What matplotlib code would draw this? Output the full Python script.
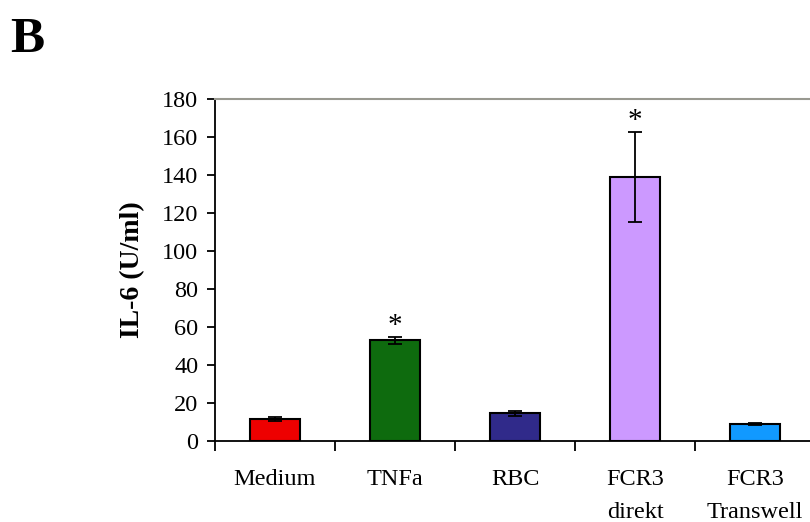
import numpy as np
import matplotlib
matplotlib.use('Agg')
import matplotlib.pyplot as plt

categories = ['Medium', 'TNFa', 'RBC', 'FCR3\ndirekt', 'FCR3\nTranswell']
values = [11.5, 53.0, 14.5, 139.0, 9.0]
errors = [1.0, 1.7, 1.5, 23.5, 0.6]
colors = ['#EE0000', '#0E6B0E', '#302A8A', '#CC99FF', '#1199FF']
stars = [False, True, False, True, False]

plt.rcParams['font.family'] = ['Liberation Serif', 'DejaVu Serif']

fig = plt.figure(figsize=(8.1, 5.22), dpi=100)
ax = fig.add_axes([215/810, 1-441/522, 600/810, 342/522])

x = np.arange(len(categories))
ax.bar(x, values, width=0.42, color=colors, edgecolor='black', linewidth=1.5,
       yerr=errors, error_kw=dict(ecolor='black', elinewidth=1.3, capsize=5, capthick=1.3),
       zorder=2)
for xi, v, e, s in zip(x, values, errors, stars):
    if s:
        ax.text(xi, v + e + 6, '*', ha='center', va='center', fontsize=21)

ax.set_xlim(-0.5, len(categories) - 0.5)
ax.set_ylim(0, 180)
ax.set_yticks(np.arange(0, 181, 20))
ax.set_xticks(np.arange(-0.5, len(categories)))
ax.set_xticklabels([])
ax.tick_params(axis='x', direction='out', length=7, width=1.3, bottom=True, top=False)
ax.tick_params(axis='y', direction='out', length=6, width=1.3, labelsize=17.5, pad=6)
for xi, lab in zip(x, categories):
    ax.text(xi, -14.5, lab, ha='center', va='top', fontsize=17.5,
            linespacing=1.75)

ax.spines['right'].set_visible(False)
ax.spines['top'].set_color('#999990')
ax.spines['top'].set_linewidth(1.5)
ax.spines['left'].set_linewidth(1.3)
ax.spines['bottom'].set_linewidth(1.3)

ax.set_ylabel('IL-6 (U/ml)', fontsize=20, fontweight='bold', labelpad=12)
fig.text(10/810, 1-40/522, 'B', fontsize=37, fontweight='bold', va='center', ha='left')

fig.savefig('out.png', dpi=100)
